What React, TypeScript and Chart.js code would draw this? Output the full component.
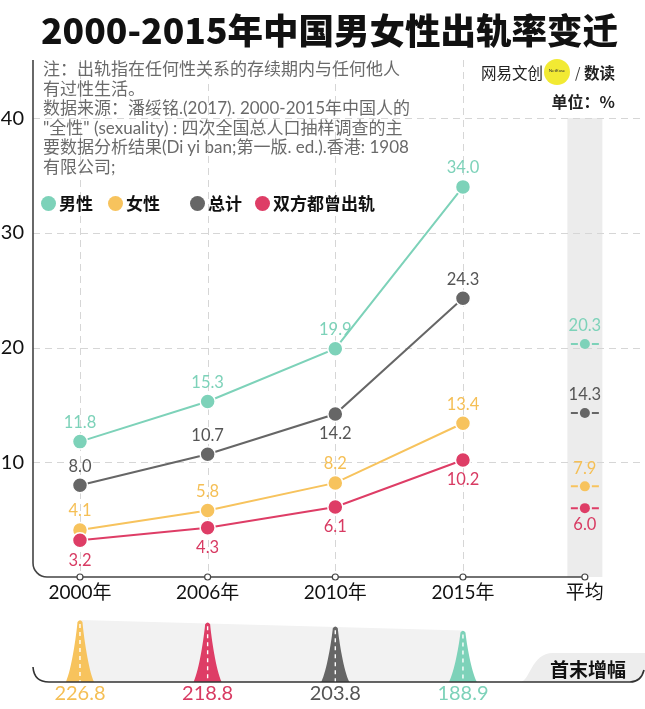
import React, { useEffect, useRef } from 'react';
import { Chart, registerables } from 'chart.js';

Chart.register(...registerables);

// ---------- data ----------
const categories = ['2000年', '2006年', '2010年', '2015年'];
const avgLabel = '平均';
const seriesNames = ['男性', '女性', '总计', '双方都曾出轨'];
const seriesColors = ['#7dd2b9', '#f7c35d', '#666666', '#de3d66'];
const labelColors = ['#7dd2b9', '#f5bf55', '#555555', '#d83a62'];
const maleValues = [11.8, 15.3, 19.9, 34.0];
const femaleValues = [4.1, 5.8, 8.2, 13.4];
const totalValues = [8.0, 10.7, 14.2, 24.3];
const bothValues = [3.2, 4.3, 6.1, 10.2];
const averageValues = [20.3, 7.9, 14.3, 6.0]; // 男性, 女性, 总计, 双方都曾出轨
const yTickValues = [10, 20, 30, 40];
const growthSeries = ['女性', '双方都曾出轨', '总计', '男性'];
const growthValues = [226.8, 218.8, 203.8, 188.9];
// label placement: 'a' = above point, 'b' = below point
const maleLabelPos = ['a', 'a', 'a', 'a'];
const femaleLabelPos = ['a', 'a', 'a', 'a'];
const totalLabelPos = ['a', 'a', 'b', 'a'];
const bothLabelPos = ['b', 'b', 'b', 'b'];
const avgLabelPos = ['a', 'a', 'a', 'b'];

const seriesValues = [maleValues, femaleValues, totalValues, bothValues];
const seriesLabelPos = [maleLabelPos, femaleLabelPos, totalLabelPos, bothLabelPos];
const drawOrder = [3, 1, 2, 0];

// ---------- layout constants ----------
const W = 645;
const H = 709;
const AVG_X = 3.955;
const FONT = "Lato, 'Noto Sans CJK SC', sans-serif";
const CJK = "'Noto Sans CJK SC', Lato, sans-serif";
const AXIS_Y_TOP = 60;
const BASE_Y = 682;

const decorPlugin = {
  id: 'decor',
  beforeDraw(chart: any) {
    const { ctx, chartArea, scales } = chart;
    const xs = scales.x;
    const ys = scales.y;
    ctx.save();
    // average band
    const ax = xs.getPixelForValue(AVG_X);
    const top40 = ys.getPixelForValue(40);
    ctx.fillStyle = '#ececec';
    ctx.fillRect(ax - 17.5, top40, 35, chartArea.bottom - top40);
    // grid
    ctx.strokeStyle = '#d6d6d6';
    ctx.lineWidth = 1;
    ctx.setLineDash([7, 5]);
    yTickValues.forEach((v) => {
      const y = Math.round(ys.getPixelForValue(v)) + 0.5;
      ctx.beginPath();
      ctx.moveTo(chartArea.left, y);
      ctx.lineTo(chartArea.right, y);
      ctx.stroke();
    });
    categories.forEach((_, i) => {
      const x = Math.round(xs.getPixelForValue(i)) + 0.5;
      ctx.beginPath();
      ctx.moveTo(x, AXIS_Y_TOP);
      ctx.lineTo(x, chartArea.bottom);
      ctx.stroke();
    });
    ctx.setLineDash([]);
    // axis with rounded corner
    const L = chartArea.left;
    const B = chartArea.bottom;
    ctx.strokeStyle = '#444';
    ctx.lineWidth = 1.6;
    ctx.beginPath();
    ctx.moveTo(L, AXIS_Y_TOP);
    ctx.lineTo(L, B - 14);
    ctx.arcTo(L, B, L + 14, B, 14);
    ctx.lineTo(ax, B);
    ctx.stroke();
    ctx.restore();
  },
  afterDraw(chart: any) {
    const { ctx, chartArea, scales } = chart;
    const xs = scales.x;
    const B = chartArea.bottom;
    ctx.save();
    // tick markers
    const tickXs = [0, 1, 2, 3, AVG_X].map((v) => xs.getPixelForValue(v));
    tickXs.forEach((x) => {
      ctx.beginPath();
      ctx.arc(x, B, 3, 0, Math.PI * 2);
      ctx.fillStyle = '#fff';
      ctx.fill();
      ctx.strokeStyle = '#444';
      ctx.lineWidth = 1.2;
      ctx.stroke();
    });

    // ---- bottom growth section ----
    const k = 0.273;
    const px = growthValues.map((_, i) => xs.getPixelForValue(i));
    const hs = growthValues.map((v) => v * k);
    // tab
    ctx.fillStyle = '#ededed';
    ctx.beginPath();
    ctx.moveTo(520, BASE_Y);
    ctx.bezierCurveTo(530, BASE_Y, 531, 653, 553, 653);
    ctx.lineTo(W, 653);
    ctx.lineTo(W, 670);
    ctx.quadraticCurveTo(641, BASE_Y, 630, BASE_Y);
    ctx.closePath();
    ctx.fill();
    // light polygon between peaks
    ctx.fillStyle = '#f2f2f2';
    ctx.beginPath();
    ctx.moveTo(px[0], BASE_Y - hs[0]);
    ctx.lineTo(px[px.length - 1], BASE_Y - hs[hs.length - 1]);
    ctx.lineTo(px[px.length - 1], BASE_Y);
    ctx.lineTo(px[0], BASE_Y);
    ctx.closePath();
    ctx.fill();
    // peaks
    growthValues.forEach((v, i) => {
      const cx = px[i];
      const h = hs[i];
      const w = 28;
      const ci = seriesNames.indexOf(growthSeries[i]);
      ctx.fillStyle = seriesColors[ci];
      ctx.beginPath();
      ctx.moveTo(cx - w / 2, BASE_Y);
      ctx.bezierCurveTo(cx - w * 0.3, BASE_Y - h * 0.2, cx - w * 0.13, BASE_Y - h * 0.75, cx - 2.5, BASE_Y - h + 2);
      ctx.quadraticCurveTo(cx, BASE_Y - h - 1.5, cx + 2.5, BASE_Y - h + 2);
      ctx.bezierCurveTo(cx + w * 0.13, BASE_Y - h * 0.75, cx + w * 0.3, BASE_Y - h * 0.2, cx + w / 2, BASE_Y);
      ctx.closePath();
      ctx.fill();
      ctx.strokeStyle = '#fff';
      ctx.lineWidth = 1.4;
      ctx.setLineDash([4, 4]);
      ctx.beginPath();
      ctx.moveTo(cx, BASE_Y - h + 4);
      ctx.lineTo(cx, BASE_Y);
      ctx.stroke();
      ctx.setLineDash([]);
      ctx.fillStyle = labelColors[ci];
      ctx.font = `20px ${FONT}`;
      ctx.textAlign = 'center';
      ctx.textBaseline = 'middle';
      ctx.fillText(v.toFixed(1), cx, 694);
    });
    // baseline
    ctx.strokeStyle = '#333';
    ctx.lineWidth = 1.6;
    ctx.beginPath();
    ctx.moveTo(chartArea.left, 667);
    ctx.quadraticCurveTo(chartArea.left + 1, BASE_Y, chartArea.left + 16, BASE_Y);
    ctx.lineTo(630, BASE_Y);
    ctx.quadraticCurveTo(641, BASE_Y, W - 1, 670);
    ctx.stroke();
    ctx.restore();
  },
  afterDatasetsDraw(chart: any) {
    const { ctx } = chart;
    ctx.save();
    ctx.font = `16.5px ${FONT}`;
    ctx.textAlign = 'center';
    ctx.textBaseline = 'middle';
    seriesValues.forEach((vals, i) => {
      const meta = chart.getDatasetMeta(i);
      vals.forEach((v, j) => {
        const p = meta.data[j];
        const dy = seriesLabelPos[i][j] === 'a' ? -19 : 20;
        ctx.fillStyle = labelColors[i];
        ctx.fillText(v.toFixed(1), p.x, p.y + dy);
      });
    });
    averageValues.forEach((v, i) => {
      const meta = chart.getDatasetMeta(4 + i);
      const p = meta.data[0];
      ctx.strokeStyle = seriesColors[i];
      ctx.lineWidth = 2;
      ctx.beginPath();
      ctx.moveTo(p.x - 14, p.y);
      ctx.lineTo(p.x - 7, p.y);
      ctx.moveTo(p.x + 7, p.y);
      ctx.lineTo(p.x + 14, p.y);
      ctx.stroke();
      const dy = avgLabelPos[i] === 'a' ? -18 : 17;
      ctx.fillStyle = labelColors[i];
      ctx.fillText(v.toFixed(1), p.x, p.y + dy);
    });
    ctx.restore();
  },
};

export default function App() {
  const ref = useRef<HTMLCanvasElement>(null);

  useEffect(() => {
    document.body.style.margin = '0';
    const datasets: any[] = seriesValues.map((vals, i) => ({
      label: seriesNames[i],
      data: vals.map((v, j) => ({ x: j, y: v })),
      borderColor: seriesColors[i],
      backgroundColor: seriesColors[i],
      pointBackgroundColor: seriesColors[i],
      pointBorderColor: '#ffffff',
      pointBorderWidth: 1.5,
      pointRadius: 7.5,
      borderWidth: 2,
      tension: 0,
      order: drawOrder[i],
    }));
    averageValues.forEach((v, i) => {
      datasets.push({
        label: seriesNames[i] + avgLabel,
        data: [{ x: AVG_X, y: v }],
        showLine: false,
        pointBackgroundColor: seriesColors[i],
        pointBorderWidth: 0,
        pointRadius: 5,
        order: 10 + i,
      });
    });

    const chart = new Chart(ref.current as HTMLCanvasElement, {
      type: 'line',
      data: { datasets },
      plugins: [decorPlugin],
      options: {
        animation: false,
        responsive: false,
        devicePixelRatio: 1,
        layout: { padding: { top: AXIS_Y_TOP, left: 0, right: 0, bottom: 0 }, autoPadding: false },
        plugins: { legend: { display: false }, tooltip: { enabled: false } },
        scales: {
          x: {
            type: 'linear',
            min: -0.368,
            max: 4.426,
            afterBuildTicks: (s: any) => {
              s.ticks = [0, 1, 2, 3, AVG_X].map((v) => ({ value: v }));
            },
            afterFit: (s: any) => {
              s.height = H - 577;
            },
            grid: { display: false, drawTicks: false },
            border: { display: false },
            ticks: {
              padding: 4,
              color: '#111',
              font: { size: 19, family: FONT },
              maxRotation: 0,
              autoSkip: false,
              callback: (_v: any, i: number) => (i < categories.length ? categories[i] : avgLabel),
            },
          },
          y: {
            min: 0,
            max: 45.06,
            afterBuildTicks: (s: any) => {
              s.ticks = yTickValues.map((v) => ({ value: v }));
            },
            afterFit: (s: any) => {
              s.width = 33;
            },
            grid: { display: false, drawTicks: false },
            border: { display: false },
            ticks: {
              padding: 9,
              color: '#111',
              font: { size: 20, family: FONT },
            },
          },
        },
      } as any,
    });
    return () => chart.destroy();
  }, []);

  const noteLines = [
    '注：出轨指在任何性关系的存续期内与任何他人',
    '有过性生活。',
    '数据来源：潘绥铭.(2017). 2000-2015年中国人的',
    '"全性" (sexuality) : 四次全国总人口抽样调查的主',
    '要数据分析结果(Di yi ban;第一版. ed.).香港: 1908',
    '有限公司;',
  ];
  const legendX = [48, 115, 197, 262];

  return (
    <div style={{ position: 'relative', width: W, height: H, background: '#fff', overflow: 'hidden' }}>
      <canvas ref={ref} width={W} height={H} style={{ position: 'absolute', left: 0, top: 0, width: W, height: H }} />
      <div
        style={{
          position: 'absolute', left: 7, top: 11, width: W, textAlign: 'center',
          fontFamily: CJK, fontWeight: 900, fontSize: 35.5, lineHeight: '36px', color: '#111',
        }}
      >
        2000-2015年中国男女性出轨率变迁
      </div>
      {noteLines.map((t, i) => (
        <div
          key={i}
          style={{
            position: 'absolute', left: 43, top: 59 + i * 19.6, height: 20, lineHeight: '20px',
            fontFamily: FONT, fontSize: 17, color: '#6a6a6a', whiteSpace: 'nowrap',
          }}
        >
          {t}
        </div>
      ))}
      {/* logo */}
      <div style={{ position: 'absolute', left: 481, top: 62, height: 20, lineHeight: '20px', fontFamily: CJK, fontSize: 15.5, color: '#222', whiteSpace: 'nowrap', fontWeight: 400 }}>
        网易文创
      </div>
      <div style={{ position: 'absolute', left: 544, top: 59, width: 26, height: 26, borderRadius: 13, background: '#f2ea33' }} />
      <div style={{ position: 'absolute', left: 544, top: 68, width: 26, textAlign: 'center', fontSize: 4.5, lineHeight: '6px', fontFamily: FONT, color: '#333' }}>NetEase</div>
      <div style={{ position: 'absolute', left: 575, top: 62, height: 20, lineHeight: '20px', fontFamily: CJK, fontSize: 14, color: '#333' }}>/</div>
      <div style={{ position: 'absolute', left: 584, top: 62, height: 20, lineHeight: '20px', fontFamily: CJK, fontSize: 15.5, color: '#222', fontWeight: 700 }}>数读</div>
      <div style={{ position: 'absolute', right: 30, top: 91, height: 20, lineHeight: '20px', fontFamily: CJK, fontSize: 16, color: '#222', fontWeight: 700, whiteSpace: 'nowrap' }}>
        单位：%
      </div>
      {/* legend */}
      {seriesNames.map((n, i) => (
        <React.Fragment key={n}>
          <div style={{ position: 'absolute', left: legendX[i] - 7.5, top: 203 - 7.5, width: 15, height: 15, borderRadius: 8, background: seriesColors[i] }} />
          <div style={{ position: 'absolute', left: legendX[i] + 11, top: 192, height: 22, lineHeight: '22px', fontFamily: CJK, fontSize: 17, fontWeight: 700, color: '#111', whiteSpace: 'nowrap' }}>
            {n}
          </div>
        </React.Fragment>
      ))}
      <div style={{ position: 'absolute', left: 548, top: 657, width: 80, height: 24, lineHeight: '24px', textAlign: 'center', fontFamily: CJK, fontSize: 19, fontWeight: 700, color: '#111' }}>
        首末增幅
      </div>
    </div>
  );
}
